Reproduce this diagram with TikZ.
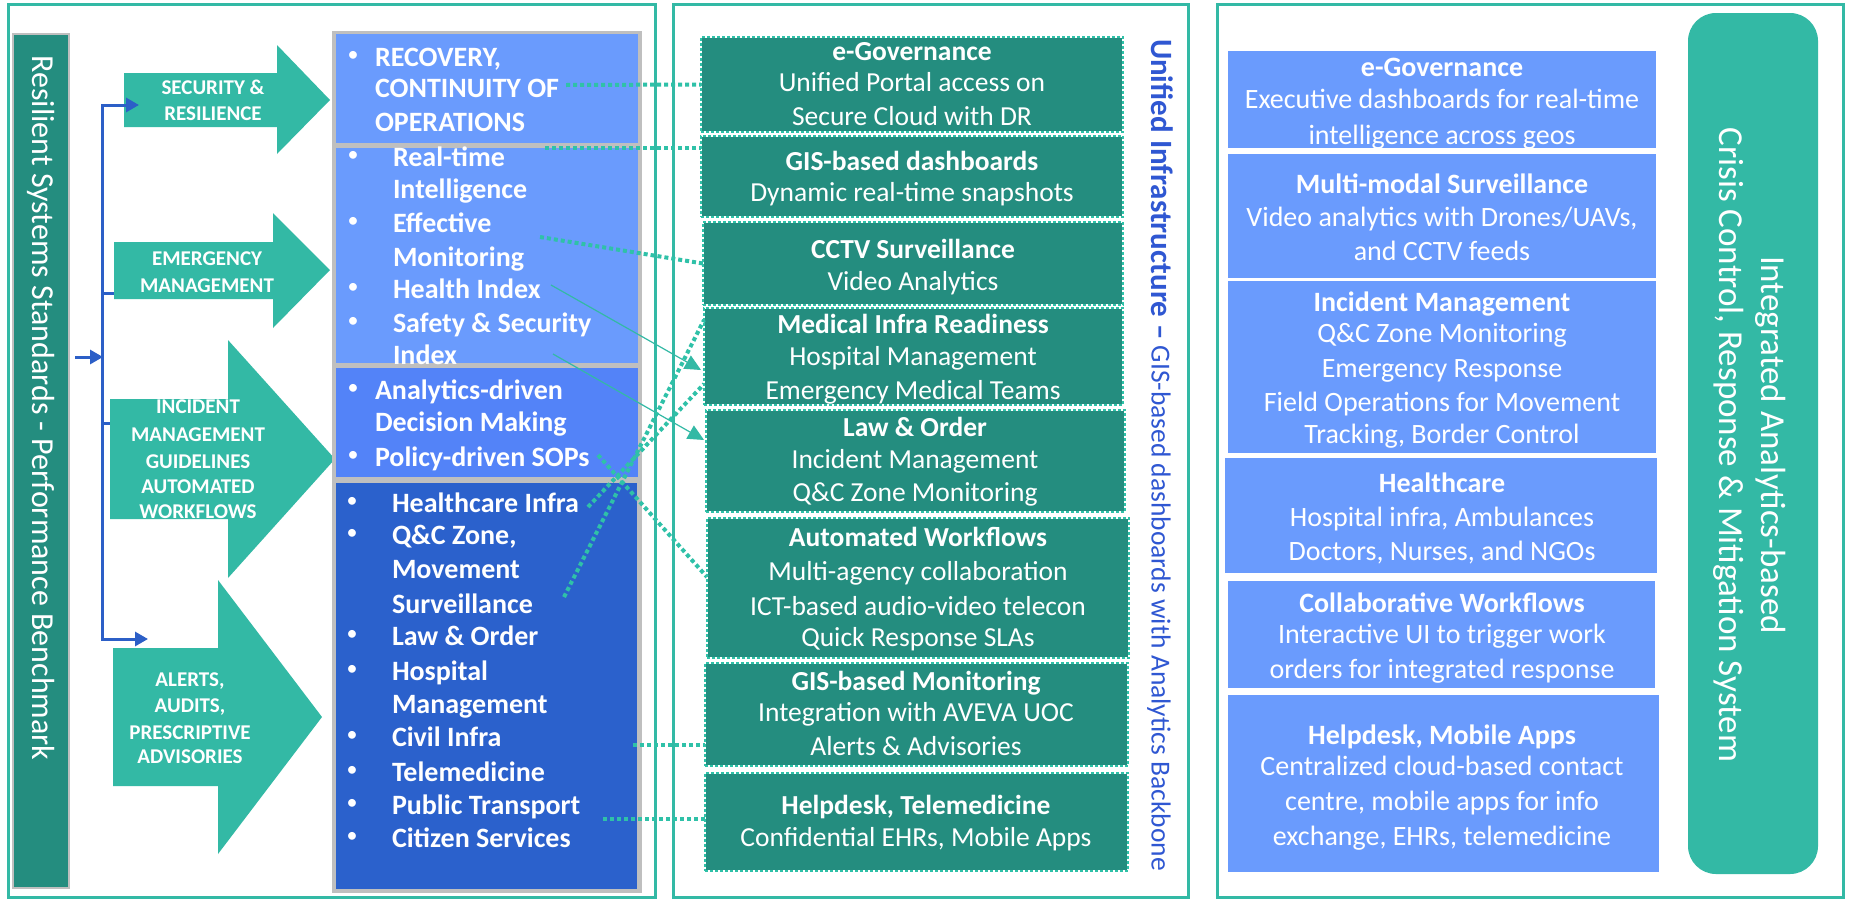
\documentclass[tikz,border=0pt]{standalone}
\usepackage{fontspec}
\setmainfont{Carlito}
\usetikzlibrary{arrows.meta}
\definecolor{tealA}{HTML}{33B9A5}
\definecolor{tealD}{HTML}{248D7F}
\definecolor{tealDot}{HTML}{2FC1A8}
\definecolor{blueL}{HTML}{6A9BFD}
\definecolor{blueM}{HTML}{5383F8}
\definecolor{blueD}{HTML}{2B61CC}
\definecolor{grayB}{HTML}{BFBFBF}
\definecolor{blueBr}{HTML}{2C5FC7}
\definecolor{blueTx}{HTML}{2F57D2}
\begin{document}
\begin{tikzpicture}[x=1pt,y=-1pt,
 frame/.style={draw=tealA,line width=3pt},
 box/.style={inner sep=0pt,outer sep=0pt,anchor=north west},
 wt/.style={inner sep=0pt,outer sep=0pt,text=white},
 lbf/.style={wt,font=\fontsize{28}{33}\selectfont\bfseries,text height=22pt,text depth=4pt},
 lbt/.style={lbf,anchor=west},
 lbul/.style={wt,font=\fontsize{22}{33}\selectfont,text height=13pt,text depth=3pt,anchor=center},
 atx/.style={wt,font=\fontsize{21}{26}\selectfont\bfseries,text height=16pt,text depth=3pt},
 mt/.style={wt,font=\fontsize{27.5}{33}\selectfont,text height=21pt,text depth=4pt},
 mtb/.style={mt,font=\fontsize{27.5}{33}\selectfont\bfseries},
 rt/.style={wt,font=\fontsize{28}{33}\selectfont,text height=22pt,text depth=4pt},
 rtb/.style={rt,font=\fontsize{28}{33}\selectfont\bfseries},
 mbox/.style={box,fill=tealD,draw=white,line width=2.5pt,postaction={draw=tealDot,line width=2.5pt,dash pattern=on 3pt off 2pt}},
 rbox/.style={box,fill=blueL},
 dotcon/.style={draw=tealDot,line width=4pt,dash pattern=on 4pt off 3pt},
 thincon/.style={draw=tealA,line width=1.2pt,-{Triangle[length=16pt,width=15pt]}},
 bracket/.style={draw=blueBr,line width=3pt},
 bigarrow/.style={fill=tealA}
]
\useasboundingbox (0,0) rectangle (1849,900);
\fill[white] (0,0) rectangle (1849,900);

% frames
\draw[frame] (8,4) rectangle (655,897);
\draw[frame] (673,4) rectangle (1188,897);
\draw[frame] (1217,4) rectangle (1843,897);

% left bar
\node[box,fill=tealD,draw=grayB,line width=2pt,minimum width=56pt,minimum height=854pt] (bar) at (13,34) {};
\node[wt,rotate=-90,font=\fontsize{32}{38}\selectfont,text height=24pt,text depth=6pt] (bartxt) at (41,408) {Resilient Systems Standards - Performance Benchmark};

% bracket hidden branches
\coordinate (br1) at (102,105);
\coordinate (br2) at (102,639);
\coordinate (bm1) at (102,293);
\coordinate (bm2) at (102,423);
\coordinate (bm1e) at (116,293);
\coordinate (bm2e) at (112,423);
\draw[bracket] (bm1) -- (bm1e);
\draw[bracket] (bm2) -- (bm2e);

% big arrows
\fill[bigarrow] (124,73) -- (277,73) -- (277,45) -- (330,100) -- (277,154) -- (277,127) -- (124,127) -- cycle;
\fill[bigarrow] (114,242) -- (273,242) -- (273,213) -- (330,270) -- (273,328) -- (273,299) -- (114,299) -- cycle;
\fill[bigarrow] (110,399) -- (228,399) -- (228,340) -- (335,459) -- (228,578) -- (228,519) -- (110,519) -- cycle;
\fill[bigarrow] (113,648) -- (218,648) -- (218,580) -- (322,717) -- (218,854) -- (218,786) -- (113,786) -- cycle;

\node[atx] (a1a) at (213,88) {SECURITY \&};
\node[atx] (a1b) at (213,114) {RESILIENCE};
\node[atx] (a2a) at (207,259) {EMERGENCY};
\node[atx] (a2b) at (207,286) {MANAGEMENT};
\node[atx] (a3a) at (198,407) {INCIDENT};
\node[atx] (a3b) at (198,435) {MANAGEMENT};
\node[atx] (a3c) at (198,462) {GUIDELINES};
\node[atx] (a3d) at (198,487) {AUTOMATED};
\node[atx] (a3e) at (198,512) {WORKFLOWS};
\node[atx] (a4a) at (190,680) {ALERTS,};
\node[atx] (a4b) at (190,706) {AUDITS,};
\node[atx] (a4c) at (190,733) {PRESCRIPTIVE};
\node[atx] (a4d) at (190,757) {ADVISORIES};

% bracket main
\coordinate (a1in) at (139,105);
\coordinate (a4in) at (148,639);
\coordinate (in0) at (75,357);
\coordinate (in1) at (103,357);
\draw[bracket,line join=miter,{Triangle[length=13pt,width=14pt]}-{Triangle[length=13pt,width=14pt]}] (a1in) -- (br1) -- (br2) -- (a4in);
\draw[bracket,-{Triangle[length=13pt,width=14pt]}] (in0) -- (in1);

% left blue boxes
\node[box,fill=grayB,minimum width=310pt,minimum height=862pt] (lgray) at (332,31) {};
\node[box,fill=blueL,minimum width=302pt,minimum height=109pt] (lb1) at (336,34) {};
\node[box,fill=blueL,minimum width=302pt,minimum height=215pt] (lb2) at (336,148) {};
\node[box,fill=blueM,minimum width=302pt,minimum height=109pt] (lb3) at (336,368) {};
\node[box,fill=blueD,minimum width=301pt,minimum height=406pt] (lb4) at (336,483) {};

\node[lbul] (u1a) at (353,56) {\textbullet};
\node[lbt] (t1a) at (375,57) {RECOVERY,};
\node[lbt] (t1b) at (375,88) {CONTINUITY OF};
\node[lbt] (t1c) at (375,122) {OPERATIONS};

\node[lbul] (u2a) at (353,156) {\textbullet};
\node[lbt] (t2a) at (393,157) {Real-time};
\node[lbt] (t2b) at (393,189) {Intelligence};
\node[lbul] (u2c) at (353,222) {\textbullet};
\node[lbt] (t2c) at (393,223) {Effective};
\node[lbt] (t2d) at (393,257) {Monitoring};
\node[lbul] (u2e) at (353,288) {\textbullet};
\node[lbt] (t2e) at (393,289) {Health Index};
\node[lbul] (u2f) at (353,322) {\textbullet};
\node[lbt] (t2f) at (393,323) {Safety \& Security};
\node[lbt] (t2g) at (393,355) {Index};

\node[lbul] (u3a) at (353,389) {\textbullet};
\node[lbt] (t3a) at (375,390) {Analytics-driven};
\node[lbt] (t3b) at (375,422) {Decision Making};
\node[lbul] (u3c) at (353,456) {\textbullet};
\node[lbt] (t3c) at (375,457) {Policy-driven SOPs};

\node[lbul] (u4a) at (352,502) {\textbullet};
\node[lbt] (t4a) at (392,503) {Healthcare Infra};
\node[lbul] (u4b) at (352,534) {\textbullet};
\node[lbt] (t4b) at (392,535) {Q\&C Zone,};
\node[lbt] (t4c) at (392,569) {Movement};
\node[lbt] (t4d) at (392,604) {Surveillance};
\node[lbul] (u4e) at (352,635) {\textbullet};
\node[lbt] (t4e) at (392,636) {Law \& Order};
\node[lbul] (u4f) at (352,670) {\textbullet};
\node[lbt] (t4f) at (392,671) {Hospital};
\node[lbt] (t4g) at (392,704) {Management};
\node[lbul] (u4h) at (352,736) {\textbullet};
\node[lbt] (t4h) at (392,737) {Civil Infra};
\node[lbul] (u4i) at (352,771) {\textbullet};
\node[lbt] (t4i) at (392,772) {Telemedicine};
\node[lbul] (u4j) at (352,804) {\textbullet};
\node[lbt] (t4j) at (392,805) {Public Transport};
\node[lbul] (u4k) at (352,837) {\textbullet};
\node[lbt] (t4k) at (392,838) {Citizen Services};

% middle boxes
\node[mbox,minimum width=422pt,minimum height=95pt] (mA) at (701,37) {};
\node[mbox,minimum width=422pt,minimum height=81pt] (mB) at (701,136) {};
\node[mbox,minimum width=420pt,minimum height=83pt] (mC) at (703,222) {};
\node[mbox,minimum width=419pt,minimum height=97pt] (mD) at (704,308) {};
\node[mbox,minimum width=419pt,minimum height=102pt] (mE) at (706,410) {};
\node[mbox,minimum width=422pt,minimum height=140pt] (mF) at (707,518) {};
\node[mbox,minimum width=423pt,minimum height=103pt] (mG) at (705,663) {};
\node[mbox,minimum width=423pt,minimum height=98pt] (mH) at (705,773) {};

\node[mtb] (mA1) at (912,52) {e-Governance};
\node[mt] (mA2) at (912,83) {Unified Portal access on};
\node[mt] (mA3) at (912,117) {Secure Cloud with DR};
\node[mtb] (mB1) at (912,162) {GIS-based dashboards};
\node[mt] (mB2) at (912,193) {Dynamic real-time snapshots};
\node[mtb] (mC1) at (913,250) {CCTV Surveillance};
\node[mt] (mC2) at (913,282) {Video Analytics};
\node[mtb] (mD1) at (913,325) {Medical Infra Readiness};
\node[mt] (mD2) at (913,357) {Hospital Management};
\node[mt] (mD3) at (913,391) {Emergency Medical Teams};
\node[mtb] (mE1) at (915,428) {Law \& Order};
\node[mt] (mE2) at (915,460) {Incident Management};
\node[mt] (mE3) at (915,493) {Q\&C Zone Monitoring};
\node[mtb] (mF1) at (918,538) {Automated Workflows};
\node[mt] (mF2) at (918,572) {Multi-agency collaboration};
\node[mt] (mF3) at (918,607) {ICT-based audio-video telecon};
\node[mt] (mF4) at (918,638) {Quick Response SLAs};
\node[mtb] (mG1) at (916,682) {GIS-based Monitoring};
\node[mt] (mG2) at (916,713) {Integration with AVEVA UOC};
\node[mt] (mG3) at (916,747) {Alerts \& Advisories};
\node[mtb] (mH1) at (916,806) {Helpdesk, Telemedicine};
\node[mt] (mH2) at (916,838) {Confidential EHRs, Mobile Apps};

% middle vertical text
\node[inner sep=0pt,text=blueTx,rotate=-90,text height=24pt,text depth=5pt] (vt) at (1161,455)
 {\fontsize{31}{37}\selectfont\bfseries Unified Infrastructure –\fontsize{27.5}{33}\selectfont\mdseries{} GIS-based dashboards with Analytics Backbone};

% right boxes
\node[rbox,minimum width=428pt,minimum height=97pt] (rA) at (1228,51) {};
\node[rbox,minimum width=428pt,minimum height=124pt] (rB) at (1228,154) {};
\node[rbox,minimum width=428pt,minimum height=172pt] (rC) at (1228,281) {};
\node[rbox,minimum width=432pt,minimum height=115pt] (rD) at (1225,458) {};
\node[rbox,minimum width=427pt,minimum height=107pt] (rE) at (1228,581) {};
\node[rbox,minimum width=431pt,minimum height=177pt] (rF) at (1228,695) {};

\node[rtb] (rA1) at (1442,67) {e-Governance};
\node[rt] (rA2) at (1442,99) {Executive dashboards for real-time};
\node[rt] (rA3) at (1442,135) {intelligence across geos};
\node[rtb] (rB1) at (1442,184) {Multi-modal Surveillance};
\node[rt] (rB2) at (1442,217) {Video analytics with Drones/UAVs,};
\node[rt] (rB3) at (1442,251) {and CCTV feeds};
\node[rtb] (rC1) at (1442,302) {Incident Management};
\node[rt] (rC2) at (1442,333) {Q\&C Zone Monitoring};
\node[rt] (rC3) at (1442,368) {Emergency Response};
\node[rt] (rC4) at (1442,402) {Field Operations for Movement};
\node[rt] (rC5) at (1442,434) {Tracking, Border Control};
\node[rtb] (rD1) at (1442,483) {Healthcare};
\node[rt] (rD2) at (1442,517) {Hospital infra, Ambulances};
\node[rt] (rD3) at (1442,551) {Doctors, Nurses, and NGOs};
\node[rtb] (rE1) at (1442,603) {Collaborative Workflows};
\node[rt] (rE2) at (1442,634) {Interactive UI to trigger work};
\node[rt] (rE3) at (1442,669) {orders for integrated response};
\node[rtb] (rF1) at (1442,735) {Helpdesk, Mobile Apps};
\node[rt] (rF2) at (1442,766) {Centralized cloud-based contact};
\node[rt] (rF3) at (1442,801) {centre, mobile apps for info};
\node[rt] (rF4) at (1442,836) {exchange, EHRs, telemedicine};

% right rounded box
\node[box,fill=tealA,rounded corners=28pt,minimum width=130pt,minimum height=861pt] (crisis) at (1688,13) {};
\node[wt,rotate=-90,font=\fontsize{35}{42}\selectfont,text height=26pt,text depth=6pt] (cr1) at (1771,445) {Integrated Analytics-based};
\node[wt,rotate=-90,font=\fontsize{35}{42}\selectfont,text height=26pt,text depth=6pt] (cr2) at (1729,445) {Crisis Control, Response \& Mitigation System};

% connectors
\coordinate (s1) at (566,85);
\coordinate (s2) at (545,148);
\coordinate (s3) at (540,237);
\coordinate (s4) at (551,285);
\coordinate (e4) at (701,370);
\coordinate (s5) at (553,354);
\coordinate (e5) at (704,440);
\coordinate (s6) at (588,507);
\coordinate (e6) at (704,384);
\coordinate (s7) at (564,597);
\coordinate (e7) at (704,320);
\coordinate (s8) at (598,455);
\coordinate (e8) at (707,577);
\coordinate (s9) at (633,745);
\coordinate (s10) at (603,819);

\draw[dotcon] (s1) -- (mA.west);
\draw[dotcon] (s2) -- (s2 -| mB.west);
\draw[dotcon] (s3) -- (mC.west);
\draw[thincon] (s4) -- (e4);
\draw[thincon] (s5) -- (e5);
\draw[dotcon] (s6) -- (e6);
\draw[dotcon] (s7) -- (e7);
\draw[dotcon] (s8) -- (e8);
\draw[dotcon] (s9) -- (s9 -| mG.west);
\draw[dotcon] (s10) -- (s10 -| mH.west);
\end{tikzpicture}
\end{document}
